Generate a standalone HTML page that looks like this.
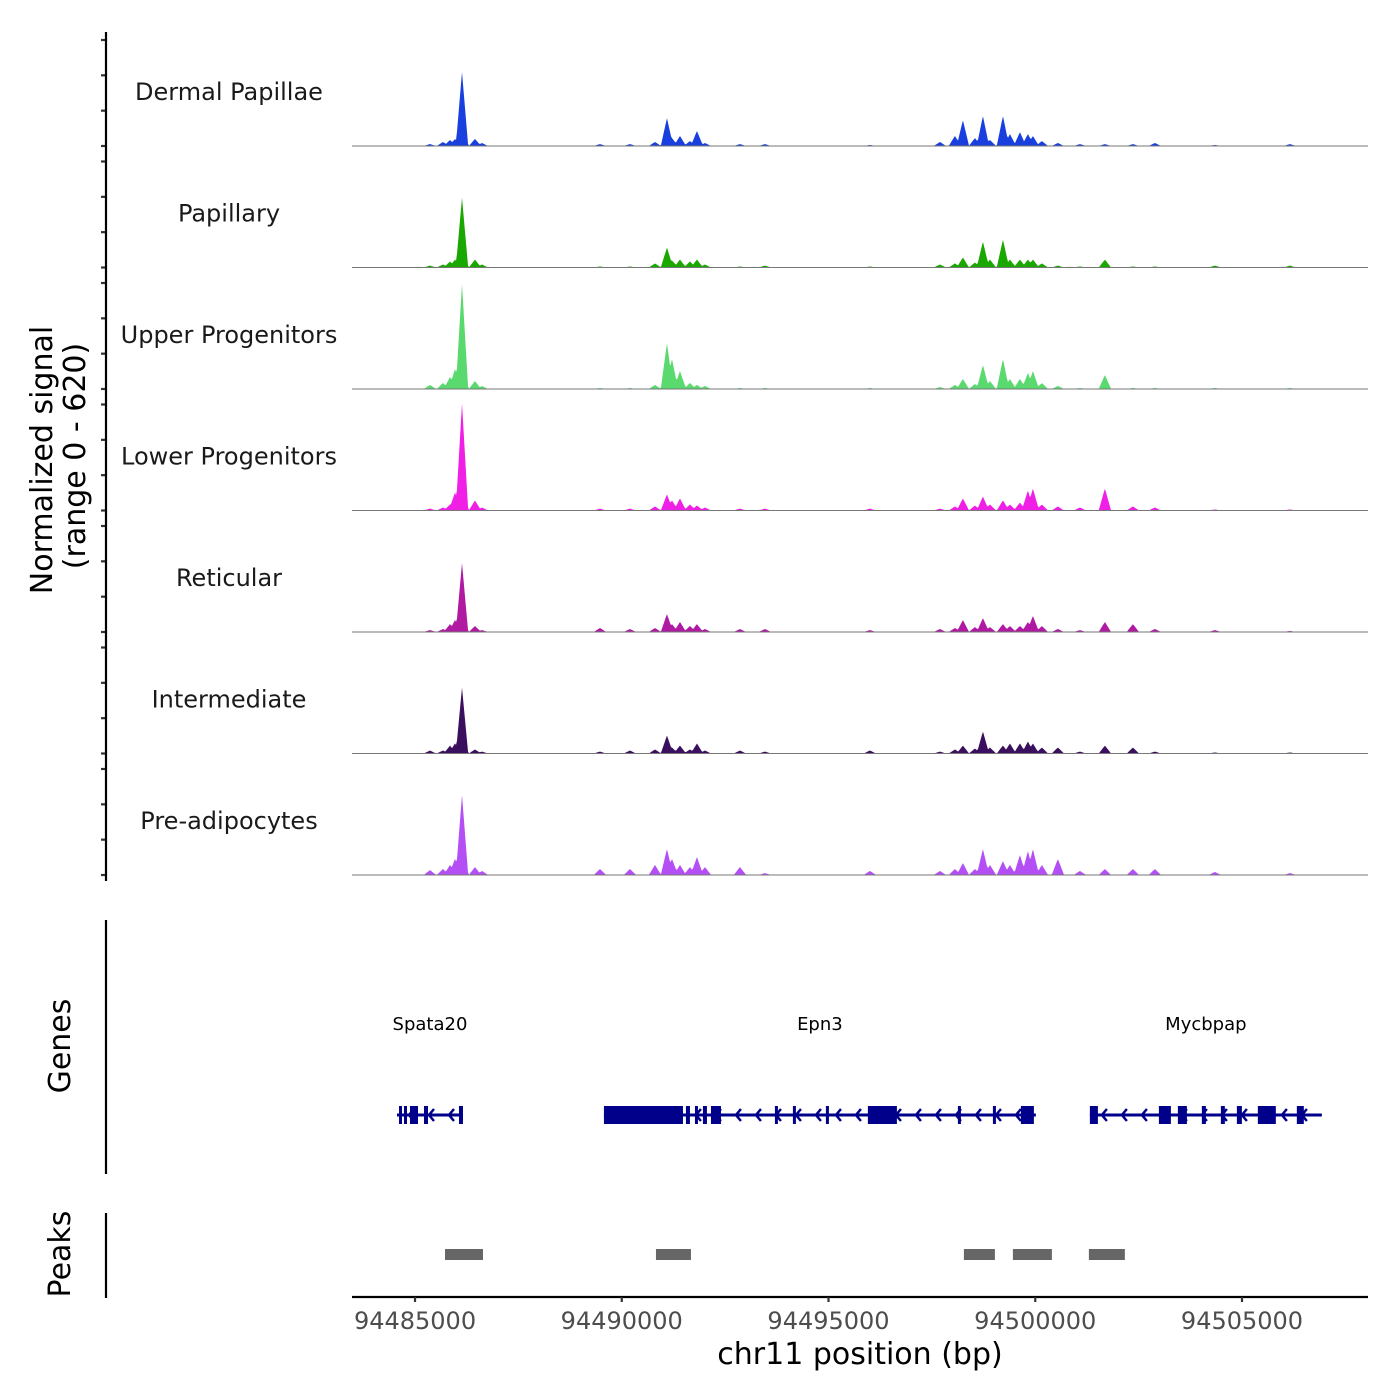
<!DOCTYPE html>
<html><head><meta charset="utf-8">
<style>
body{margin:0;background:#fff;}
svg{display:block;font-family:"DejaVu Sans","Liberation Sans",sans-serif;}
</style></head>
<body>
<svg id="chart" width="1400" height="1400" viewBox="0 0 1400 1400">
<g id="tracks"></g>
<g id="genes"></g>
<g id="peaks"></g>
<g id="axes"></g>
</svg>
<script>
// ---- data ----
const regionStart = 94483476, regionEnd = 94508047;
const yMax = 620;
const trackNames = ["Dermal Papillae","Papillary","Upper Progenitors","Lower Progenitors","Reticular","Intermediate","Pre-adipocytes"];
const trackColors = ["#1a3fdf","#1aa800","#5ad96e","#f01fe6","#b01aa3","#3a0f5e","#b44ef5"];
const peakPos = [94485362,94485676,94485846,94485967,94486136,94486450,94486619,94489473,94490198,94490803,94491093,94491214,94491407,94491649,94491818,94492012,94492858,94493463,94496001,94497694,94498057,94498250,94498541,94498734,94498904,94499218,94499387,94499629,94499822,94499943,94500160,94500547,94501079,94501684,94502361,94502893,94504344,94506157];
const sigDermal = [11,23,34,40,419,40,17,11,11,23,158,45,57,28,85,17,11,11,6,23,57,147,45,170,34,170,68,79,68,57,28,17,11,11,11,17,6,11];
const sigPapillary = [11,17,34,45,396,45,17,6,6,23,113,40,45,34,45,17,6,11,6,17,23,57,28,147,45,158,45,45,45,45,23,11,6,45,6,6,11,11];
const sigUpper = [23,34,68,113,594,45,17,6,6,23,260,170,102,34,23,17,6,6,6,11,23,57,28,136,45,170,57,57,91,102,34,17,6,79,6,6,6,6];
const sigLower = [11,17,34,102,606,57,17,11,11,23,91,57,68,34,28,17,11,11,11,11,23,68,28,79,34,57,34,45,113,125,34,23,17,125,23,17,6,6];
const sigReticular = [11,17,45,68,391,34,11,23,17,23,102,45,57,34,45,17,17,17,11,17,23,68,28,79,28,45,34,34,57,91,34,17,11,57,45,17,11,6];
const sigIntermediate = [17,17,45,57,374,23,11,11,17,23,102,34,45,23,57,17,17,11,17,11,23,45,28,125,34,45,57,57,68,57,34,34,11,45,34,11,6,6];
const sigPre = [28,34,57,91,453,45,23,34,34,57,147,91,57,45,102,45,45,11,23,23,34,68,34,147,57,79,57,113,136,147,57,91,23,34,34,34,17,11];
const trackSignals = [sigDermal,sigPapillary,sigUpper,sigLower,sigReticular,sigIntermediate,sigPre];
const geneNames = ["Spata20","Epn3","Mycbpap"];
const geneStarts = [94484564,94489569,94501321];
const geneEnds = [94486160,94500015,94506931];
const geneExons = [
 [[94484613,94484685],[94484733,94484806],[94484878,94485072],[94485217,94485314],[94486063,94486160]],
 [[94489569,94491480],[94491552,94491649],[94491770,94491842],[94491963,94492060],[94492157,94492399],[94493704,94493753],[94494139,94494187],[94494937,94495010],[94495952,94496654],[94498129,94498202],[94498976,94499049],[94499653,94499967]],
 [[94501321,94501515],[94502990,94503280],[94503449,94503667],[94504029,94504126],[94504489,94504585],[94504876,94504997],[94505383,94505818],[94506326,94506495]]
];
const peakStarts = [94485725,94490827,94498274,94499459,94501297];
const peakEnds = [94486644,94491673,94499024,94500402,94502167];
const xTicks = [94485000,94490000,94495000,94500000,94505000];
const yTickVals = [0,200,400,600];

// ---- scales ----
const NS="http://www.w3.org/2000/svg";
const px0=352, px1=1368;
function xs(bp){return px0+(bp-regionStart)/(regionEnd-regionStart)*(px1-px0);}
const trackBase=[146,267.5,389,510.5,632,753.5,875];
const unitPx=106/600;
function ys(i,v){return trackBase[i]-v*unitPx;}
function mk(tag,attrs,parent){const e=document.createElementNS(NS,tag);for(const k in attrs)e.setAttribute(k,attrs[k]);parent.appendChild(e);return e;}

const gT=document.getElementById('tracks');
trackNames.forEach((name,i)=>{
  const g=mk('g',{},gT);
  
  
  const sig=trackSignals[i];
  const hw=150;
  let d='M'+px0+','+trackBase[i];
  for(let x=px0;x<=px1;x+=1){
    const bp=regionStart+(x-px0)/(px1-px0)*(regionEnd-regionStart);
    let v=0;
    peakPos.forEach((p,k)=>{const dd=Math.abs(bp-p);if(dd<hw){v=Math.max(v,sig[k]*(1-dd/hw));}});
    d+=' L'+x+','+ys(i,v).toFixed(2);
  }
  d+=' L'+px1+','+trackBase[i]+' Z';
  const a=mk('path',{d:d,fill:trackColors[i]},g);
  
  
  const b=mk('line',{x1:px0,x2:px1,y1:trackBase[i],y2:trackBase[i],stroke:'#777','stroke-width':1},g);
  
  
  const t=mk('text',{x:229,y:trackBase[i]-46,'text-anchor':'middle','font-size':24,fill:'#1a1a1a'},g);
  t.textContent=name;
  
  
  yTickVals.forEach(v=>{
    const tk=mk('line',{x1:101,x2:106,y1:ys(i,v),y2:ys(i,v),stroke:'#333','stroke-width':2.2},g);
    
    
  });
});

// genes
const gG=document.getElementById('genes');
const gy=1115;
geneNames.forEach((n,i)=>{
  const g=mk('g',{},gG);
  
  
  const x1=xs(geneStarts[i]),x2=xs(geneEnds[i]);
  mk('line',{x1:x1,x2:x2,y1:gy,y2:gy,stroke:'#00008b','stroke-width':3},g);
  for(let x=x1+12;x<x2-4;x+=20){
    mk('polyline',{points:(x+5)+','+(gy-6)+' '+x+','+gy+' '+(x+5)+','+(gy+6),fill:'none',stroke:'#00008b','stroke-width':2.5},g);
  }
  geneExons[i].forEach(e=>{
    const r=mk('rect',{x:xs(e[0]),y:gy-9,width:Math.max(3,xs(e[1])-xs(e[0])),height:18,fill:'#00008b'},g);
    
    
  });
  const t=mk('text',{x:(x1+x2)/2,y:1030,'text-anchor':'middle','font-size':18,fill:'#000'},g);
  t.textContent=n;
  
  
});

// peaks
const gP=document.getElementById('peaks');
peakStarts.forEach((s,i)=>{
  const r=mk('rect',{x:xs(s),y:1249,width:xs(peakEnds[i])-xs(s),height:11,fill:'#666'},gP);
  
  
});

// axes
const gA=document.getElementById('axes');
function ln(a,name){const l=mk('line',Object.assign({stroke:'#000','stroke-width':2.2},a),gA);return l;}
ln({x1:106,x2:106,y1:32,y2:881},'y-axis-line');
ln({x1:106,x2:106,y1:920,y2:1174},'genes-axis-line');
ln({x1:106,x2:106,y1:1213,y2:1298},'peaks-axis-line');
ln({x1:352,x2:1368,y1:1297,y2:1297},'x-axis-line');
xTicks.forEach(v=>{
  ln({x1:xs(v),x2:xs(v),y1:1297,y2:1302,stroke:'#333'},'x-tick');
  const t=mk('text',{x:xs(v),y:1329,'text-anchor':'middle','font-size':24,fill:'#4d4d4d'},gA);
  t.textContent=String(v);
  
  
});
function txt(s,attrs,name){const t=mk('text',attrs,gA);t.textContent=s;return t;}
txt('chr11 position (bp)',{x:860,y:1364,'text-anchor':'middle','font-size':30,fill:'#000'},'x-axis-title');
txt('Normalized signal',{x:0,y:0,'text-anchor':'middle','font-size':30,transform:'translate(52,460) rotate(-90)'},'y-axis-title');
txt('(range 0 - 620)',{x:0,y:0,'text-anchor':'middle','font-size':30,transform:'translate(85,456) rotate(-90)'},'y-axis-subtitle');
txt('Genes',{x:0,y:0,'text-anchor':'middle','font-size':30,transform:'translate(70,1046) rotate(-90)'},'genes-axis-title');
txt('Peaks',{x:0,y:0,'text-anchor':'middle','font-size':30,transform:'translate(70,1254) rotate(-90)'},'peaks-axis-title');
</script>
</body></html>
